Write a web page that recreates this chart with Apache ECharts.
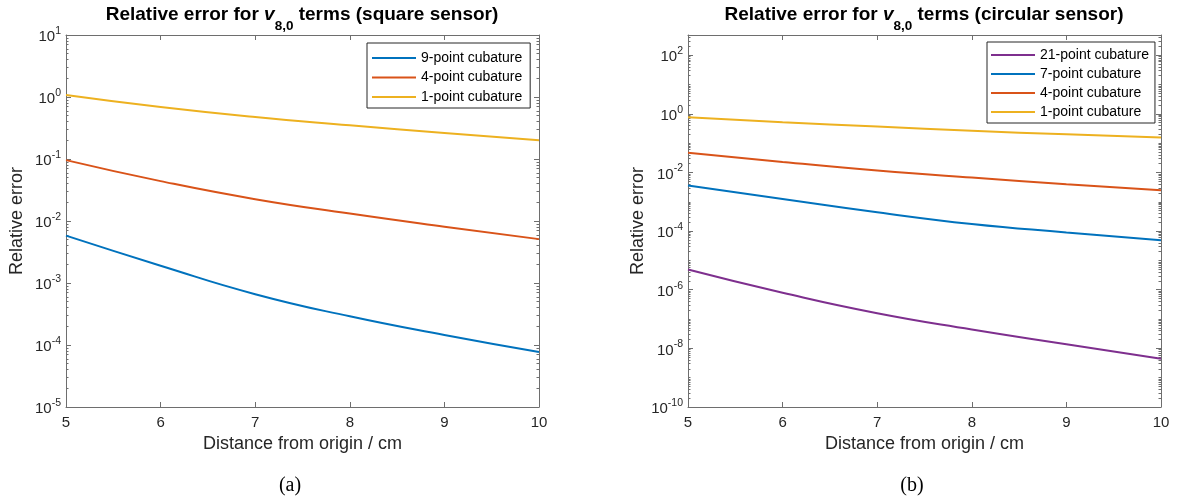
<!DOCTYPE html>
<html><head><meta charset="utf-8">
<script src="https://cdn.jsdelivr.net/npm/echarts@6/dist/echarts.min.js"></script>
<style>html,body{margin:0;padding:0;background:#fff}#c{width:1177px;height:498px}</style>
</head><body><div id="c"></div>
<script>
// ---------- data ----------
const xValues = [5, 6, 7, 8, 9, 10];
const xTicks = [5, 6, 7, 8, 9, 10];

// (a) square sensor
const squareNames = ['9-point cubature', '4-point cubature', '1-point cubature'];
const square9 = [5.8e-3, 1.9e-3, 6.6e-4, 2.9e-4, 1.45e-4, 7.7e-5];
const square4 = [0.096, 0.044, 0.0225, 0.0132, 0.0081, 0.0051];
const square1 = [1.08, 0.69, 0.475, 0.35, 0.262, 0.20];

// (b) circular sensor
const circNames = ['21-point cubature', '7-point cubature', '4-point cubature', '1-point cubature'];
const circ21 = [4.9e-6, 7.9e-7, 1.58e-7, 4.4e-8, 1.38e-8, 4.4e-9];
const circ7 = [3.6e-3, 1.25e-3, 4.4e-4, 1.75e-4, 9.0e-5, 4.9e-5];
const circ4 = [0.047, 0.023, 0.0118, 0.0067, 0.0040, 0.0025];
const circ1 = [0.77, 0.52, 0.37, 0.265, 0.20, 0.155];

// y tick exponents (powers of ten)
const yLabelExpA = [-5, -4, -3, -2, -1, 0, 1];
const yLabelExpB = [-10, -8, -6, -4, -2, 0, 2];
const yRangeA = [1e-5, 10];
const yRangeB = [1e-10, 490];

const titleA = 'Relative error for |v|8,0| terms (square sensor)';
const titleB = 'Relative error for |v|8,0| terms (circular sensor)';
const xName = 'Distance from origin / cm';
const yName = 'Relative error';

// ---------- styling ----------
const C = { blue: '#0072BD', red: '#D95319', yellow: '#EDB120', purple: '#7E2F8E' };
const FONT = 'Liberation Sans, Arial, Helvetica, sans-serif';
const axisColor = '#6e6e6e';
const textColor = '#262626';

const L = Math.log10;
function minorTicks(lo, hi, skipExps) {
  const out = [];
  for (let n = Math.floor(lo); n <= Math.ceil(hi); n++) {
    if (!skipExps.includes(n) && n >= lo && n <= hi) out.push(n);
    for (let k = 2; k <= 9; k++) { const v = n + L(k); if (v > lo && v < hi) out.push(v); }
  }
  return out;
}

const grids = [
  { left: 66, top: 35, width: 473, height: 372 },
  { left: 688, top: 35, width: 473, height: 372 }
];

const xAxes = [], yAxes = [];
function addAxes(g, yr, labelExps) {
  const lo = L(yr[0]), hi = L(yr[1]);
  const base = { gridIndex: g, type: 'value', splitLine: { show: false } };
  const lineS = { show: true, onZero: false, lineStyle: { color: axisColor, width: 1 } };
  xAxes.push(Object.assign({}, base, {
    position: 'bottom', min: 5, max: 10, interval: 1,
    axisLine: lineS, axisTick: { inside: true, length: 5, lineStyle: { color: axisColor } },
    axisLabel: { fontSize: 15, color: textColor, fontFamily: FONT, margin: 8, customValues: xTicks },
    name: xName, nameLocation: 'middle', nameGap: 26,
    nameTextStyle: { fontSize: 18, color: textColor, fontFamily: FONT }
  }));
  xAxes.push(Object.assign({}, base, {
    position: 'top', min: 5, max: 10, interval: 1,
    axisLine: lineS, axisTick: { inside: true, length: 5, lineStyle: { color: axisColor } },
    axisLabel: { show: false }
  }));
  const rich = {
    b: { fontSize: 15, lineHeight: 19, verticalAlign: 'bottom', color: textColor, fontFamily: FONT },
    s: { fontSize: 10.5, lineHeight: 10, verticalAlign: 'top', color: textColor, fontFamily: FONT }
  };
  yAxes.push(Object.assign({}, base, {
    position: 'left', min: lo, max: hi, interval: 1,
    axisLine: lineS,
    axisTick: { inside: true, length: 5, customValues: labelExps, lineStyle: { color: axisColor } },
    axisLabel: { customValues: labelExps, margin: 5, rich: rich,
      formatter: v => '{b|10}{s|' + Math.round(v) + '}' },
    name: yName, nameLocation: 'middle', nameGap: 40,
    nameTextStyle: { fontSize: 18, color: textColor, fontFamily: FONT }
  }));
  yAxes.push(Object.assign({}, base, {
    position: 'right', min: lo, max: hi, interval: 1,
    axisLine: lineS,
    axisTick: { inside: true, length: 5, customValues: labelExps, lineStyle: { color: axisColor } },
    axisLabel: { show: false }
  }));
  const minors = minorTicks(lo, hi, labelExps);
  ['left', 'right'].forEach(pos => yAxes.push(Object.assign({}, base, {
    position: pos, min: lo, max: hi, interval: 1,
    axisLine: { show: false },
    axisTick: { inside: true, length: 2.5, customValues: minors, lineStyle: { color: axisColor } },
    axisLabel: { show: false }
  })));
}
addAxes(0, yRangeA, yLabelExpA);
addAxes(1, yRangeB, yLabelExpB);

function mk(name, arr, color, g) {
  return {
    type: 'line', name: name, xAxisIndex: g * 2, yAxisIndex: g * 4,
    data: xValues.map((x, i) => [x, L(arr[i])]),
    symbol: 'none', showSymbol: false, smooth: 0.5,
    lineStyle: { width: 2, color: color }, itemStyle: { color: color }, z: 3
  };
}
const series = [
  mk(squareNames[0], square9, C.blue, 0),
  mk(squareNames[1], square4, C.red, 0),
  mk(squareNames[2], square1, C.yellow, 0),
  mk(circNames[0], circ21, C.purple, 1),
  mk(circNames[1], circ7, C.blue, 1),
  mk(circNames[2], circ4, C.red, 1),
  mk(circNames[3], circ1, C.yellow, 1)
];

const legendBase = {
  orient: 'vertical', itemWidth: 44, itemHeight: 2, itemGap: 5, icon: 'rect',
  borderColor: '#262626', borderWidth: 1, borderRadius: 0, backgroundColor: '#fff',
  textStyle: { fontSize: 14, lineHeight: 14, color: '#000', fontFamily: FONT }, selectedMode: false
};

function titleGraphic(x, t) {
  const p = t.split('|');
  return {
    type: 'text', x: x, y: 5, z: 10,
    style: {
      text: '{b|' + p[0] + '}{v|' + p[1] + '}{s|' + p[2] + '}{b|' + p[3] + '}',
      align: 'center', verticalAlign: 'top',
      rich: {
        b: { fontSize: 19, fontWeight: 'bold', fontFamily: FONT, color: '#000', lineHeight: 22, verticalAlign: 'top' },
        v: { fontSize: 19, fontWeight: 'bold', fontStyle: 'italic', fontFamily: FONT, color: '#000', lineHeight: 22, verticalAlign: 'top' },
        s: { fontSize: 13.5, fontWeight: 'bold', fontFamily: FONT, color: '#000', lineHeight: 28, verticalAlign: 'bottom' }
      }
    }
  };
}

const option = {
  animation: false,
  backgroundColor: '#fff',
  grid: grids,
  xAxis: xAxes,
  yAxis: yAxes,
  legend: [
    Object.assign({}, legendBase, { data: squareNames, left: 367, top: 43, itemGap: 5.5, padding: [8, 8, 4, 5] }),
    Object.assign({}, legendBase, { data: circNames, left: 987, top: 42, padding: [6, 6, 4, 4] })
  ],
  graphic: [
    titleGraphic(302, titleA),
    titleGraphic(924, titleB),
    { type: 'text', x: 290, y: 486, style: { text: '(a)', font: '20px "Liberation Serif", "DejaVu Serif", serif', fill: '#000', align: 'center', verticalAlign: 'middle' } },
    { type: 'text', x: 912, y: 486, style: { text: '(b)', font: '20px "Liberation Serif", "DejaVu Serif", serif', fill: '#000', align: 'center', verticalAlign: 'middle' } }
  ],
  series: series
};
const chart = echarts.init(document.getElementById('c'), null, { renderer: 'canvas' });
chart.setOption(option);
</script>
</body></html>
